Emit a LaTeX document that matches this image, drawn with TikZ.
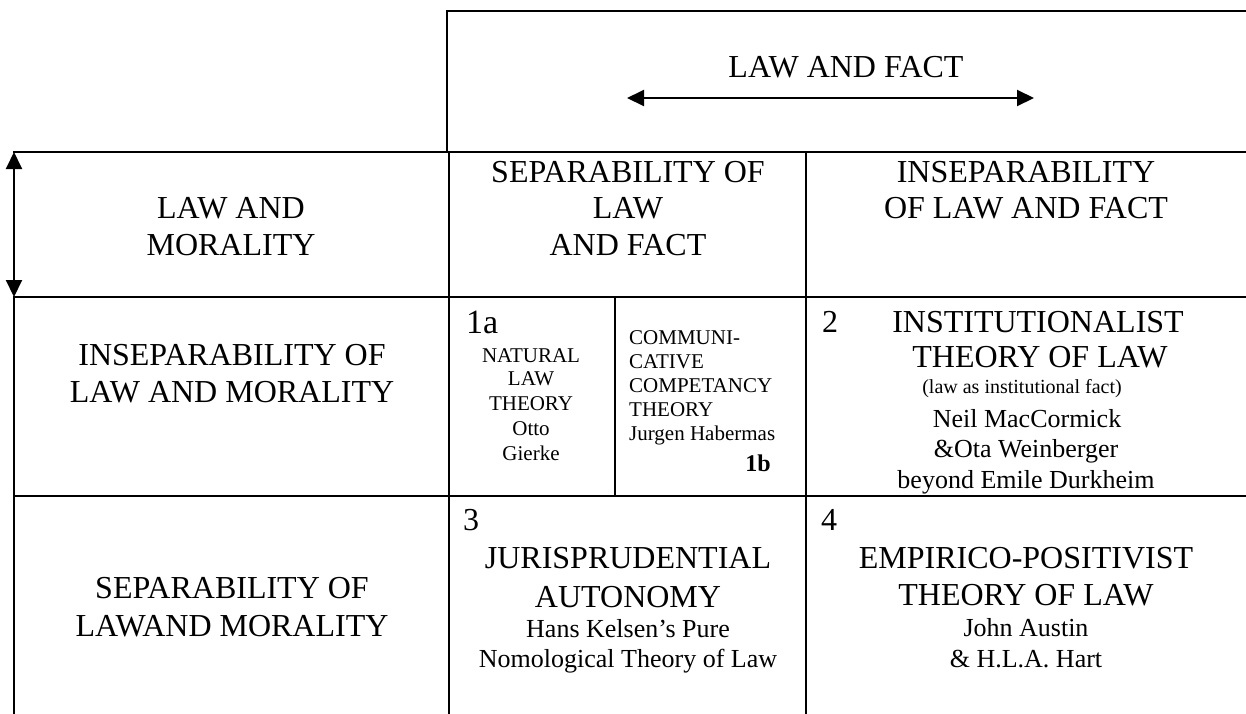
\documentclass[tikz,border=0pt]{standalone}
\usepackage{fontspec}
\setmainfont{Liberation Serif}
\usetikzlibrary{arrows.meta}
\tikzset{
  gridline/.style={line width=2pt, line cap=rect},
  twoway/.style={line width=2pt, {Triangle[length=17pt,width=16pt]}-{Triangle[length=17pt,width=16pt]}},
  big/.style={font=\fontsize{32}{37}\selectfont, inner sep=0pt, anchor=base},
  med/.style={font=\fontsize{26}{30}\selectfont, inner sep=0pt, anchor=base},
  sml/.style={font=\fontsize{21}{24}\selectfont, inner sep=0pt, anchor=base},
  tiny/.style={font=\fontsize{20}{23}\selectfont, inner sep=0pt, anchor=base},
  num/.style={font=\fontsize{32}{37}\selectfont, inner sep=0pt, anchor=base west},
}
\begin{document}
\begin{tikzpicture}[x=1pt,y=-1pt]
\useasboundingbox (0,0) rectangle (1246,713);
% grid
\draw[gridline] (447,152) -- (447,11) -- (1246,11);
\draw[gridline] (14,152) -- (1246,152);
\draw[gridline] (14,297) -- (1246,297);
\draw[gridline] (14,496) -- (1246,496);
\draw[gridline] (14,297) -- (14,713);
\draw[gridline] (449,152) -- (449,713);
\draw[gridline] (806,152) -- (806,713);
\draw[gridline] (615,297) -- (615,496);
% arrows
\coordinate (lfA) at (627,98);
\coordinate (lfB) at (1034,98);
\draw[twoway] (lfA) -- (lfB);
\coordinate (lmA) at (14,152);
\coordinate (lmB) at (14,297);
\draw[twoway] (lmA) -- (lmB);
% top header
\node[big] (lawfact) at (846,77) {LAW AND FACT};
% header row
\node[big] (lm1) at (231,218) {LAW AND};
\node[big] (lm2) at (231,255) {MORALITY};
\node[big] (sf1) at (628,182) {SEPARABILITY OF};
\node[big] (sf2) at (628,218) {LAW};
\node[big] (sf3) at (628,255) {AND FACT};
\node[big] (if1) at (1026,182) {INSEPARABILITY};
\node[big] (if2) at (1026,218) {OF LAW AND FACT};
% row labels
\node[big] (im1) at (232,365) {INSEPARABILITY OF};
\node[big] (im2) at (232,402) {LAW AND MORALITY};
\node[big] (sm1) at (232,598) {SEPARABILITY OF};
\node[big] (sm2) at (232,636) {LAWAND MORALITY};
% cell 1a
\node[num, font=\fontsize{34}{38}\selectfont] (n1a) at (466,333) {1a};
\node[sml] (a1) at (531,362) {NATURAL};
\node[sml] (a2) at (531,385) {LAW};
\node[sml] (a3) at (531,410) {THEORY};
\node[sml] (a4) at (531,435) {Otto};
\node[sml] (a5) at (531,460) {Gierke};
% cell 1b
\node[sml, anchor=base west] (b1) at (629,344) {COMMUNI-};
\node[sml, anchor=base west] (b2) at (629,368) {CATIVE};
\node[sml, anchor=base west] (b3) at (629,392) {COMPETANCY};
\node[sml, anchor=base west] (b4) at (629,416) {THEORY};
\node[sml, anchor=base west] (b5) at (629,440) {Jurgen Habermas};
\node[sml, anchor=base east, font=\fontsize{24}{27}\selectfont\bfseries] (n1b) at (771,471) {1b};
% cell 2
\node[num] (n2) at (822,332) {2};
\node[big] (c1) at (1038,332) {INSTITUTIONALIST};
\node[big] (c2) at (1040,367) {THEORY OF LAW};
\node[tiny] (c3) at (1022,393) {(law as institutional fact)};
\node[med] (c4) at (1027,427) {Neil MacCormick};
\node[med] (c5) at (1026,457) {\&Ota Weinberger};
\node[med] (c6) at (1026,488) {beyond Emile Durkheim};
% cell 3
\node[num] (n3) at (463,530) {3};
\node[big] (d1) at (628,568) {JURISPRUDENTIAL};
\node[big] (d2) at (628,607) {AUTONOMY};
\node[med] (d3) at (628,637) {Hans Kelsen’s Pure};
\node[med] (d4) at (628,667) {Nomological Theory of Law};
% cell 4
\node[num] (n4) at (821,530) {4};
\node[big] (e1) at (1026,568) {EMPIRICO-POSITIVIST};
\node[big] (e2) at (1026,605) {THEORY OF LAW};
\node[med] (e3) at (1026,636) {John Austin};
\node[med] (e4) at (1026,667) {\& H.L.A. Hart};
\end{tikzpicture}
\end{document}
